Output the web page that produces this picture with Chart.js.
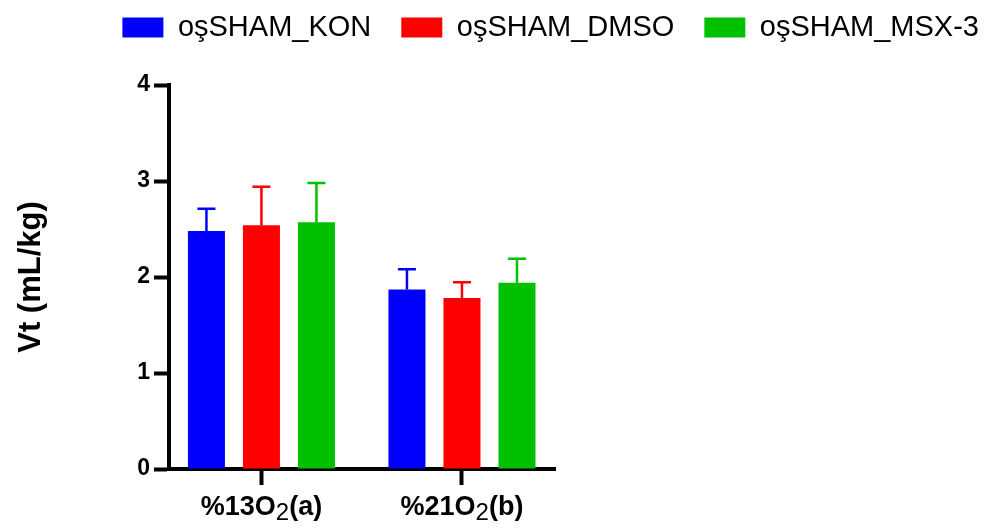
<!DOCTYPE html>
<html>
<head>
<meta charset="utf-8">
<script src="https://cdn.jsdelivr.net/npm/chart.js@4/dist/chart.umd.min.js"></script>
<style>
  html, body { margin: 0; padding: 0; background: #fff; }
  #wrap { width: 991px; height: 528px; }
</style>
</head>
<body>
<div id="wrap"><canvas id="chartVt"></canvas></div>
<script>
// data
const groups = ['%13O₂(a)', '%21O₂(b)'];
const series = ['oşSHAM_KON', 'oşSHAM_DMSO', 'oşSHAM_MSX-3'];
const colors = ['#0000ff', '#ff0000', '#00c000'];
const kon = [2.48, 1.87];
const dmso = [2.54, 1.78];
const msx = [2.57, 1.94];
// upper end of error bars
const konErr = [2.71, 2.08];
const dmsoErr = [2.94, 1.945];
const msxErr = [2.98, 2.19];
const yTicks = [0, 1, 2, 3, 4];

const values = [kon, dmso, msx];
const errs = [konErr, dmsoErr, msxErr];

const errorBars = {
  id: 'errorBars',
  afterDatasetsDraw(chart) {
    const ctx = chart.ctx;
    const y = chart.scales.y;
    chart.data.datasets.forEach((ds, i) => {
      const meta = chart.getDatasetMeta(i);
      meta.data.forEach((bar, j) => {
        const top = y.getPixelForValue(errs[i][j]);
        ctx.save();
        ctx.strokeStyle = ds.backgroundColor;
        ctx.lineWidth = 2.5;
        ctx.beginPath();
        ctx.moveTo(bar.x, bar.y);
        ctx.lineTo(bar.x, top);
        ctx.moveTo(bar.x - 9, top);
        ctx.lineTo(bar.x + 9, top);
        ctx.stroke();
        ctx.restore();
      });
    });
  }
};

// x labels with a real subscript "2"
const subLabels = {
  id: 'subLabels',
  afterDraw(chart) {
    const ctx = chart.ctx;
    const x = chart.scales.x;
    const big = 'bold 27px "Liberation Sans"';
    const small = '24px "Liberation Sans"';
    const base = x.top + 46;
    groups.forEach((g, i) => {
      const [pre, post] = g.split('₂');
      ctx.save();
      ctx.fillStyle = '#000';
      ctx.textBaseline = 'alphabetic';
      ctx.textAlign = 'left';
      ctx.font = big;
      const w1 = ctx.measureText(pre).width;
      const w3 = ctx.measureText(post).width;
      ctx.font = small;
      const w2 = ctx.measureText('2').width;
      let cx = x.getPixelForValue(i) - (w1 + w2 + w3) / 2;
      ctx.font = big;
      ctx.fillText(pre, cx, base);
      cx += w1;
      ctx.font = small;
      ctx.fillText('2', cx, base + 5);
      cx += w2;
      ctx.font = big;
      ctx.fillText(post, cx, base);
      ctx.restore();
    });
  }
};

const legendSpace = {
  id: 'legendSpace',
  beforeInit(chart) {
    const fit = chart.legend.fit;
    chart.legend.fit = function () {
      fit.bind(chart.legend)();
      this.height = 102;
    };
  }
};

const ctx = document.getElementById('chartVt').getContext('2d');
new Chart(ctx, {
  type: 'bar',
  data: {
    datasets: series.map((name, i) => ({
      label: name,
      data: values[i].map((v, j) => ({ x: j, y: v })),
      backgroundColor: colors[i],
      borderWidth: 0,
      barPercentage: 0.673,
      categoryPercentage: 0.823
    }))
  },
  options: {
    responsive: true,
    maintainAspectRatio: false,
    animation: false,
    layout: { padding: { top: -17, right: -18, left: 0, bottom: 0 } },
    plugins: {
      legend: {
        position: 'top',
        align: 'end',
        labels: {
          boxWidth: 41,
          boxHeight: 20,
          padding: 30,
          color: '#000',
          font: { family: 'Liberation Sans', size: 29 }
        }
      },
      tooltip: { enabled: false }
    },
    scales: {
      x: {
        type: 'linear',
        min: -0.461,
        max: 1.464,
        offset: false,
        afterBuildTicks: s => { s.ticks = groups.map((g, i) => ({ value: i })); },
        afterFit: s => { s.height = 59; },
        border: { color: '#000', width: 4 },
        grid: { display: true, offset: false, drawOnChartArea: false, tickLength: 16, tickWidth: 4, tickColor: '#000' },
        ticks: { display: false }
      },
      y: {
        min: 0,
        max: 4,
        afterBuildTicks: s => { s.ticks = yTicks.map(v => ({ value: v })); },
        afterFit: s => { s.width = 169; },
        border: { color: '#000', width: 4 },
        grid: { display: true, drawOnChartArea: false, tickLength: 15, tickWidth: 4, tickColor: '#000' },
        ticks: {
          color: '#000',
          padding: 4,
          font: { family: 'Liberation Sans', size: 23, weight: 'bold' }
        },
        title: {
          display: true,
          text: 'Vt (mL/kg)',
          color: '#000',
          padding: { top: 13, bottom: 0 },
          font: { family: 'Liberation Sans', size: 31, weight: 'bold' }
        }
      },
      // empty right axis, keeps the plot area narrow
      right: {
        position: 'right',
        display: true,
        afterFit: s => { s.width = 454; },
        border: { display: false },
        grid: { display: false },
        ticks: { display: false }
      }
    }
  },
  plugins: [errorBars, subLabels, legendSpace]
});
</script>
</body>
</html>
